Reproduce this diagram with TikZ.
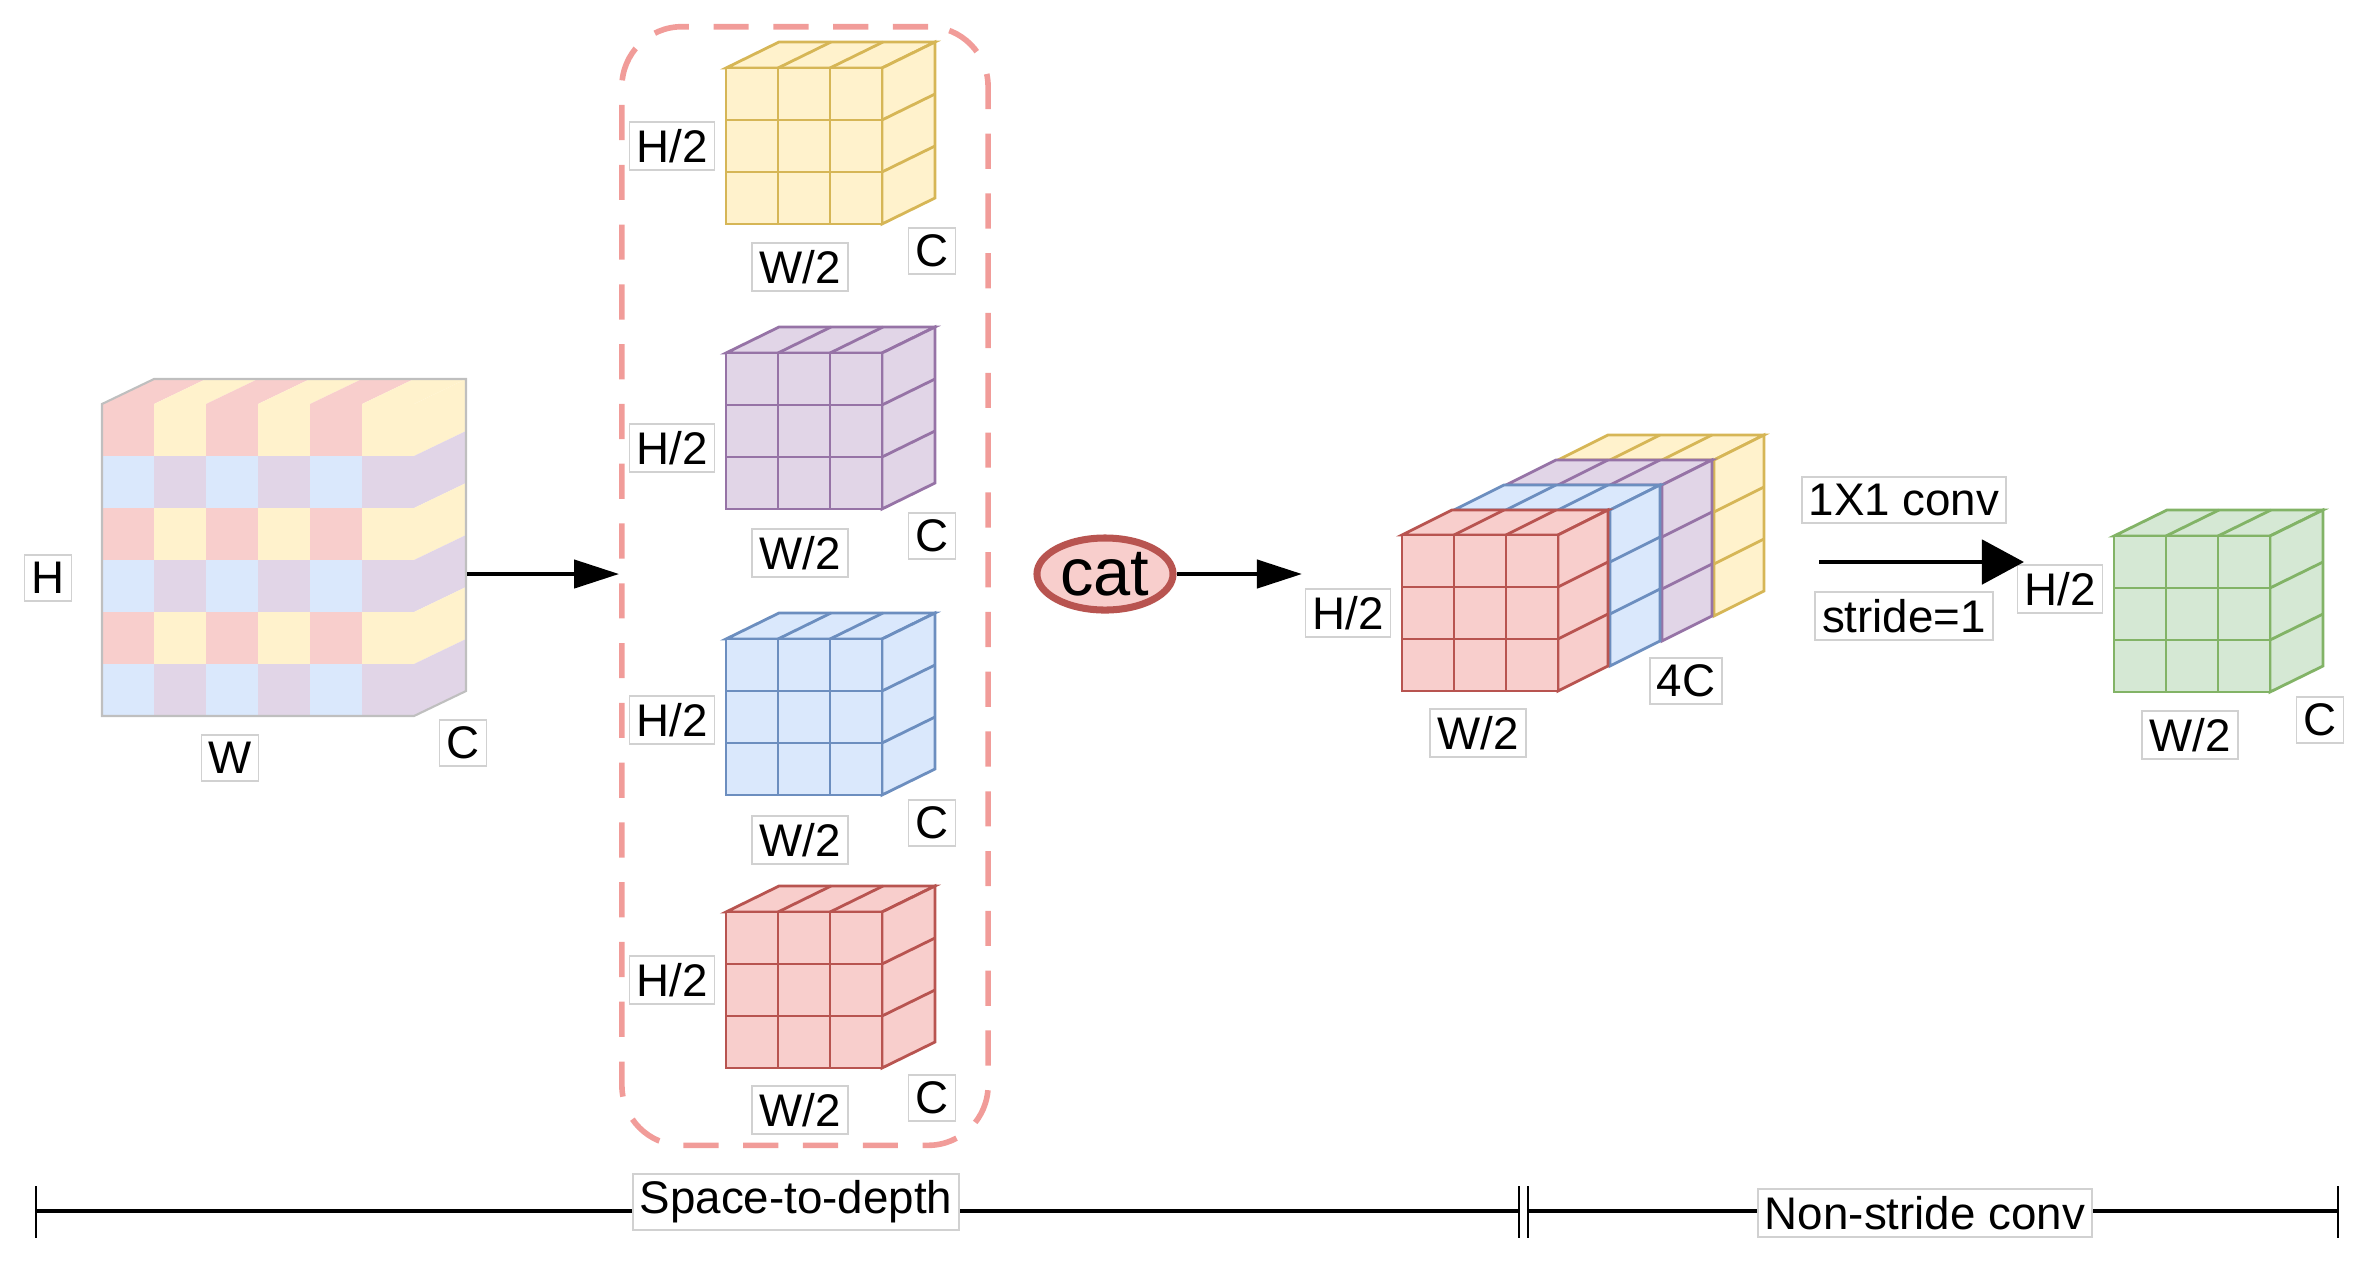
\documentclass[tikz,border=0pt]{standalone}
\usepackage{fontspec}
\setmainfont{Liberation Sans}
\usetikzlibrary{positioning,arrows.meta,shapes.geometric}

\definecolor{redF}{HTML}{F8CECC}\definecolor{redD}{HTML}{B85450}
\definecolor{yelF}{HTML}{FFF2CC}\definecolor{yelD}{HTML}{D6B656}
\definecolor{purF}{HTML}{E1D5E7}\definecolor{purD}{HTML}{9673A6}
\definecolor{bluF}{HTML}{DAE8FC}\definecolor{bluD}{HTML}{6C8EBF}
\definecolor{grnF}{HTML}{D5E8D4}\definecolor{grnD}{HTML}{82B366}
\definecolor{boxD}{HTML}{F19C99}

% 3x3 cube, one cell deep: x, y (front top-left), cell w, cell h, dx, dy, colour
\newcommand{\gcube}[7]{%
  \begin{scope}[shift={(#1,#2)}, fill=#7F, draw=#7D, line width=0.8pt]
    \filldraw (0,0) -- ++(#5,#6) -- ++(3*#3,0) -- (3*#3,0) -- cycle;
    \filldraw (3*#3,0) -- ++(#5,#6) -- ++(0,3*#4) -- (3*#3,3*#4) -- cycle;
    \filldraw (0,0) rectangle (3*#3,3*#4);
    \foreach \i in {1,2} {
      \draw (\i*#3,0) -- ++(0,3*#4);
      \draw (0,\i*#4) -- ++(3*#3,0);
      \draw (\i*#3,0) -- ++(#5,#6);
      \draw (3*#3,\i*#4) -- ++(#5,#6);
    }
  \end{scope}}

\begin{document}
\begin{tikzpicture}[
    x=0.01cm, y=-0.01cm,
    font=\fontsize{13}{15}\selectfont,
    lbl/.style={draw=black!18, line width=0.5pt, inner sep=2pt, fill=white},
    arr/.style={line width=1.2pt, -{Triangle[length=0.45cm, width=0.28cm]}},
    bar/.style={line width=1.3pt},
    tick/.style={line width=0.8pt}
  ]
  \useasboundingbox (0,0) rectangle (2368,1265);

  % input tensor
  \begin{scope}[shift={(102,404)}]
    \foreach \c in {0,...,5} {
      \pgfmathsetmacro\tc{mod(\c,2)==0 ? "redF" : "yelF"}
      \fill[\tc] (\c*52,0) -- ++(52,-25) -- ++(52,0) -- ++(-52,25) -- cycle;
      \foreach \r in {0,...,5} {
        \pgfmathsetmacro\fc{mod(\r,2)==0 ? (mod(\c,2)==0 ? "redF" : "yelF") : (mod(\c,2)==0 ? "bluF" : "purF")}
        \fill[\fc] (\c*52,\r*52) rectangle ++(52,52);
      }
    }
    \foreach \r in {0,...,5} {
      \pgfmathsetmacro\sc{mod(\r,2)==0 ? "yelF" : "purF"}
      \fill[\sc] (312,\r*52) -- ++(52,-25) -- ++(0,52) -- ++(-52,25) -- cycle;
    }
    \draw[black!25, line width=0.6pt] (0,0) -- (52,-25) -- (364,-25) -- (364,287) -- (312,312) -- (0,312) -- cycle;
  \end{scope}
  \node[lbl] (inH) at (48,578) {H};
  \node[lbl] (inW) at (230,758) {W};
  \node[lbl] (inC) at (463,743) {C};
  \coordinate (inR) at (467,574);

  % space-to-depth group
  \node[draw=boxD, dashed, dash pattern=on 10pt off 7pt, line width=1.6pt, rounded corners=0.6cm,
        minimum width=3.66cm, minimum height=11.18cm] (s2d) at (805,586) {};
  \gcube{726}{68}{52}{52}{53}{-26}{yel}
  \gcube{726}{353}{52}{52}{53}{-26}{pur}
  \gcube{726}{639}{52}{52}{53}{-26}{blu}
  \gcube{726}{912}{52}{52}{53}{-26}{red}
  \foreach \n/\yh/\yw/\yc in {a/146/267/251,b/448/553/536,c/720/840/823,d/980/1110/1098} {
    \node[lbl] (h\n) at (672,\yh) {H/2};
    \node[lbl] (w\n) at (800,\yw) {W/2};
    \node[lbl] (c\n) at (932,\yc) {C};
  }

  % concatenation
  \node[ellipse, draw=redD, fill=redF, line width=2pt, minimum width=1.36cm, minimum height=0.72cm,
        inner sep=0pt, font=\fontsize{19}{21}\selectfont] (cat) at (1105,574) {cat};
  \coordinate (catR) at (1302,574);
  \gcube{1558}{460}{52}{52}{50}{-25}{yel}
  \gcube{1506}{485}{52}{52}{50}{-25}{pur}
  \gcube{1454}{510}{52}{52}{50}{-25}{blu}
  \gcube{1402}{535}{52}{52}{50}{-25}{red}
  \node[lbl] (cH) at (1348,613) {H/2};
  \node[lbl] (cW) at (1478,733) {W/2};
  \node[lbl] (cC) at (1686,681) {4C};

  % non-stride conv
  \node[lbl] (k) at (1904,500) {1X1 conv};
  \node[lbl] (st) at (1904,616) {stride=1};
  \coordinate (cvL) at (1819,562);
  \coordinate (cvR) at (2024,562);
  \gcube{2114}{536}{52}{52}{53}{-26}{grn}
  \node[lbl] (oH) at (2060,589) {H/2};
  \node[lbl] (oW) at (2190,735) {W/2};
  \node[lbl] (oC) at (2320,720) {C};

  \draw[arr] (inR) -- (s2d.west |- inR);
  \draw[arr] (cat.east) -- (catR);
  \draw[line width=1.4pt, -{Triangle[length=0.42cm, width=0.44cm]}] (cvL) -- (cvR);

  % bottom scale bar
  \coordinate (b0) at (36,1211);
  \coordinate (b1) at (1519,1211);
  \coordinate (b2) at (1528,1211);
  \coordinate (b3) at (2338,1211);
  \draw[bar] (b0) -- (b1) (b2) -- (b3);
  \foreach \b in {b0,b1,b2,b3} \draw[tick] ([yshift=0.25cm]\b) -- ([yshift=-0.27cm]\b);
  \node[lbl] (sd) at (796,1202) {Space-to-depth};
  \node[lbl] (ns) at (1925,1213) {Non-stride conv};
\end{tikzpicture}
\end{document}
